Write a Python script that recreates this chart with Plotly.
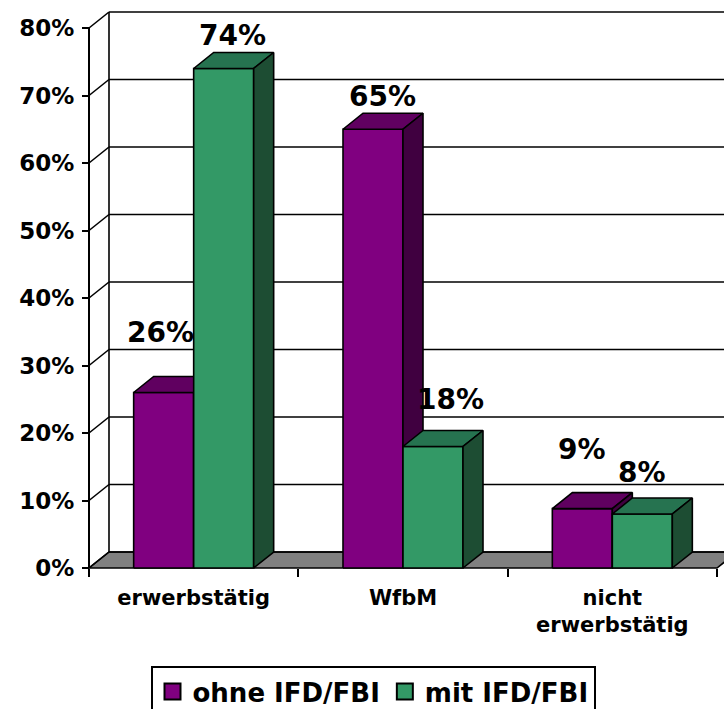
import plotly.graph_objects as go

# ---------------- data ----------------
categories = ["erwerbstätig", "WfbM", "nicht<br>erwerbstätig"]
series_names = ["ohne IFD/FBI", "mit IFD/FBI"]
ohne_values = [26, 65, 8.8]
mit_values = [74, 18, 8]
y_ticks = [0, 10, 20, 30, 40, 50, 60, 70, 80]
y_tick_text = [f"{t}%" for t in y_ticks]

# ---------------- style / layout calibration ----------------
W, H = 724, 709
PX_X0 = 89.0          # front y-axis pixel x
CAT_PX = 209.33       # pixels per category
PX_Y0 = 568.0         # pixel y of 0 %
PX_PER = 6.75         # pixels per 1 %
DEPTH = (20.0, 16.0)  # 3-D depth offset in px
XL, XR, YT, YB = 79, 724, 4, 580

def u(px):
    return (px - PX_X0) / CAT_PX - 0.5

def v(py):
    return (PX_Y0 - py) / PX_PER

DX = DEPTH[0] / CAT_PX
DY = DEPTH[1] / PX_PER
BAR_W = 60.0 / CAT_PX

colors = {
    "ohne IFD/FBI": ("#800080", "#600060", "#400040"),
    "mit IFD/FBI": ("#339966", "#267350", "#1d4d33"),
}
offsets = {"ohne IFD/FBI": -BAR_W, "mit IFD/FBI": 0.0}
# label shifts (px) relative to the top-back centre of each bar
label_shift = {
    "ohne IFD/FBI": [(-13, 44), (-1, 17), (-10, 43)],
    "mit IFD/FBI": [(-1, 17), (7, 31), (-10, 26)],
}

FONT = "DejaVu Sans"
LW = 1.6

fig = go.Figure()

# ---------------- frame (walls, floor, gridlines) ----------------
shapes = []
x_left = -0.5
x_right = len(categories) - 0.5
shapes.append(dict(type="path", xref="x", yref="y", layer="below",
                   path=f"M{x_left},0 L{x_right},0 L{x_right+DX},{DY} L{x_left+DX},{DY} Z",
                   fillcolor="#808080", line=dict(color="black", width=LW)))
for t in y_ticks:
    shapes.append(dict(type="line", xref="x", yref="y", layer="below",
                       x0=x_left + DX, x1=x_right + DX + 1, y0=t + DY, y1=t + DY,
                       line=dict(color="black", width=LW)))
    shapes.append(dict(type="line", xref="x", yref="y", layer="below",
                       x0=x_left, x1=x_left + DX, y0=t, y1=t + DY,
                       line=dict(color="black", width=LW)))
shapes.append(dict(type="line", xref="x", yref="y", layer="below",
                   x0=x_left + DX, x1=x_left + DX, y0=DY, y1=y_ticks[-1] + DY,
                   line=dict(color="black", width=LW)))
shapes.append(dict(type="line", xref="x", yref="y", layer="below",
                   x0=x_left, x1=x_left, y0=0, y1=y_ticks[-1],
                   line=dict(color="black", width=2)))

# ---------------- 3-D bars ----------------
annotations = []
for name, vals in [("ohne IFD/FBI", ohne_values), ("mit IFD/FBI", mit_values)]:
    front_c, top_c, side_c = colors[name]
    fx, fy, tx, ty, sx, sy = [], [], [], [], [], []
    for i, val in enumerate(vals):
        x0 = i + offsets[name]
        x1 = x0 + BAR_W
        fx += [x0, x1, x1, x0, x0, None]
        fy += [0, 0, val, val, 0, None]
        tx += [x0, x1, x1 + DX, x0 + DX, x0, None]
        ty += [val, val, val + DY, val + DY, val, None]
        sx += [x1, x1 + DX, x1 + DX, x1, x1, None]
        sy += [0, DY, val + DY, val, 0, None]
        sxh, syh = label_shift[name][i]
        annotations.append(dict(x=(x0 + x1) / 2 + DX / 2, y=val + DY, xref="x", yref="y",
                                text=f"{round(val)}%", showarrow=False,
                                xanchor="center", yanchor="middle",
                                xshift=sxh, yshift=syh,
                                font=dict(family=FONT, size=28, color="black", weight="bold")))
    for xs, ys, c in [(fx, fy, front_c), (tx, ty, top_c), (sx, sy, side_c)]:
        fig.add_trace(go.Scatter(x=xs, y=ys, fill="toself", fillcolor=c, mode="lines",
                                 line=dict(color="black", width=LW), showlegend=False,
                                 hoverinfo="skip"))

# legend entries
for name in series_names:
    fig.add_trace(go.Scatter(x=[None], y=[None], mode="markers", name=name,
                             marker=dict(symbol="square", size=16, color=colors[name][0],
                                         line=dict(color="black", width=2))))

fig.update_layout(
    width=W, height=H,
    margin=dict(l=0, r=0, t=0, b=0, autoexpand=False),
    paper_bgcolor="white", plot_bgcolor="white",
    font=dict(family=FONT, size=21, color="black", weight="bold"),
    shapes=shapes,
    annotations=annotations,
    showlegend=True,
    legend=dict(orientation="h", x=373 / W, xanchor="center", y=(H - 666) / H, yanchor="top",
                bordercolor="black", borderwidth=2, bgcolor="white",
                font=dict(family=FONT, size=26, color="black", weight="bold"),
                itemsizing="trace"),
    xaxis=dict(domain=[XL / W, XR / W], range=[u(XL), u(XR)], anchor="free",
               position=(H - PX_Y0) / H, automargin=False,
               tickmode="array", tickvals=list(range(len(categories))), ticktext=categories,
               ticks="", showgrid=False, zeroline=False, showline=False,
               ticklabelstandoff=15,
               tickfont=dict(family=FONT, size=21, color="black", weight="bold"),
               minor=dict(tickmode="array",
                          tickvals=[i - 0.5 for i in range(len(categories) + 1)],
                          ticks="outside", ticklen=8, tickwidth=2, tickcolor="black",
                          showgrid=False)),
    yaxis=dict(domain=[(H - YB) / H, (H - YT) / H], range=[v(YB), v(YT)], anchor="free",
               position=PX_X0 / W, automargin=False,
               tickmode="array", tickvals=y_ticks, ticktext=y_tick_text,
               ticks="outside", ticklen=7, tickwidth=2, tickcolor="black",
               ticklabelstandoff=3,
               tickfont=dict(family=FONT, size=23, color="black", weight="bold"),
               showgrid=False, zeroline=False, showline=False),
)

fig.write_html("out.html")
